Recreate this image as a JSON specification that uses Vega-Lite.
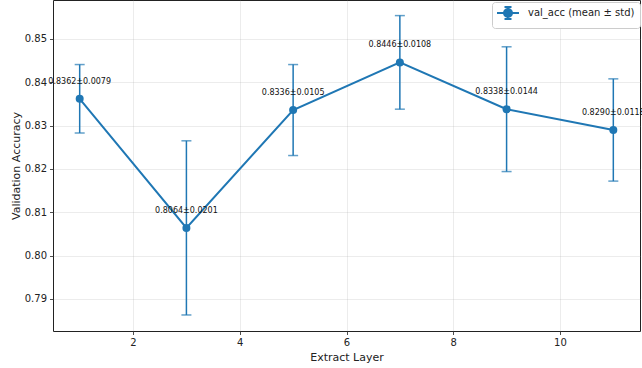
{
  "$schema": "https://vega.github.io/schema/vega-lite/v6.json",
  "width": 587,
  "height": 331,
  "autosize": {"type": "none"},
  "padding": {"left": 53, "top": 0, "right": 2, "bottom": 37},
  "background": "white",
  "config": {
    "font": "DejaVu Sans",
    "view": {"stroke": "#222", "strokeWidth": 1},
    "axis": {
      "gridColor": "#b0b0b0", "gridOpacity": 0.3, "gridWidth": 0.8,
      "domain": false,
      "tickColor": "#222", "tickSize": 3.5, "tickWidth": 0.8,
      "labelColor": "#222", "labelFontSize": 10, "labelFont": "DejaVu Sans",
      "titleColor": "#222", "titleFontSize": 11, "titleFont": "DejaVu Sans", "titleFontWeight": "normal"
    }
  },
  "data": {"values": [
    {"layer": 1, "mean": 0.8362, "std": 0.0079, "label": "0.8362±0.0079", "series": "val_acc (mean ± std)"},
    {"layer": 3, "mean": 0.8064, "std": 0.0201, "label": "0.8064±0.0201", "series": "val_acc (mean ± std)"},
    {"layer": 5, "mean": 0.8336, "std": 0.0105, "label": "0.8336±0.0105", "series": "val_acc (mean ± std)"},
    {"layer": 7, "mean": 0.8446, "std": 0.0108, "label": "0.8446±0.0108", "series": "val_acc (mean ± std)"},
    {"layer": 9, "mean": 0.8338, "std": 0.0144, "label": "0.8338±0.0144", "series": "val_acc (mean ± std)"},
    {"layer": 11, "mean": 0.8290, "std": 0.0118, "label": "0.8290±0.0118", "series": "val_acc (mean ± std)"}
  ]},
  "encoding": {
    "x": {"field": "layer", "type": "quantitative",
      "scale": {"domain": [0.5, 11.5], "nice": false, "zero": false},
      "axis": {"values": [2, 4, 6, 8, 10], "title": "Extract Layer", "labelPadding": 3, "titlePadding": 4}},
    "y": {"field": "mean", "type": "quantitative",
      "scale": {"domain": [0.7826, 0.859], "nice": false, "zero": false},
      "axis": {"values": [0.79, 0.8, 0.81, 0.82, 0.83, 0.84, 0.85], "format": ".2f", "title": "Validation Accuracy", "labelPadding": 3, "titlePadding": 3}}
  },
  "layer": [
    {
      "mark": {"type": "line", "strokeWidth": 2, "color": "#1f77b4"},
      "encoding": {
        "color": {"field": "series", "type": "nominal",
          "scale": {"range": ["#1f77b4"]},
          "legend": {
            "title": null, "orient": "none", "legendX": 439, "legendY": 2,
            "fillColor": "white", "strokeColor": "#cccccc", "cornerRadius": 3,
            "padding": 5,
            "symbolType": "M-1.2,0H3.2M1,-1.2V1.2M0.3,-1.2H1.7M0.3,1.2H1.7M1.8,0A0.8,0.8,0,1,1,0.2,0A0.8,0.8,0,1,1,1.8,0Z",
            "symbolSize": 100, "symbolStrokeWidth": 2, "symbolFillColor": "#1f77b4", "symbolStrokeColor": "#1f77b4",
            "labelFontSize": 10, "labelColor": "#222", "labelFont": "DejaVu Sans", "labelOffset": 19
          }
        }
      }
    },
    {
      "mark": {"type": "errorbar", "ticks": {"size": 10, "thickness": 1.5, "color": "#1f77b4"}, "rule": {"strokeWidth": 1.5, "color": "#1f77b4"}},
      "encoding": {"yError": {"field": "std"}}
    },
    {
      "mark": {"type": "point", "filled": true, "opacity": 1, "size": 64, "color": "#1f77b4"}
    },
    {
      "mark": {"type": "text", "fontSize": 8, "dy": -17, "color": "#111", "font": "DejaVu Sans"},
      "encoding": {"text": {"field": "label"}}
    }
  ]
}
